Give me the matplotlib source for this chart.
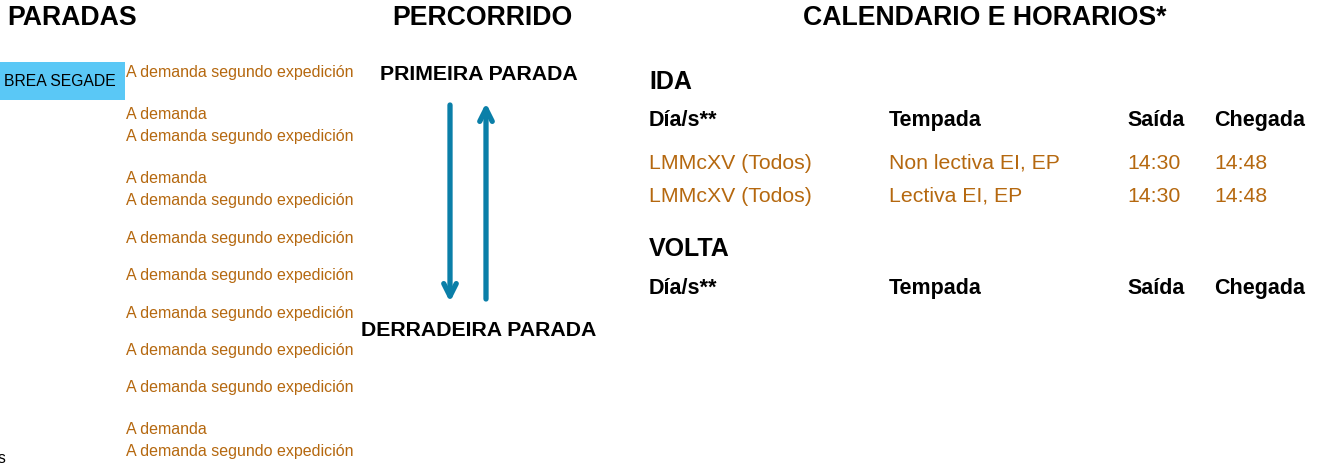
import matplotlib
matplotlib.use("Agg")
import matplotlib.pyplot as plt

plt.rcParams['font.family'] = ['Liberation Sans', 'DejaVu Sans']

# data
headers = ["PARADAS", "PERCORRIDO", "CALENDARIO E HORARIOS*"]
first_stop = "BREA SEGADE"
last_stop_tail = "s"
stop_notes = [
    ["A demanda segundo expedición"],
    ["A demanda", "A demanda segundo expedición"],
    ["A demanda", "A demanda segundo expedición"],
    ["A demanda segundo expedición"],
    ["A demanda segundo expedición"],
    ["A demanda segundo expedición"],
    ["A demanda segundo expedición"],
    ["A demanda segundo expedición"],
    ["A demanda", "A demanda segundo expedición"],
]
route_ends = ["PRIMEIRA PARADA", "DERRADEIRA PARADA"]
table_cols = ["Día/s**", "Tempada", "Saída", "Chegada"]
ida_rows = [
    ["LMMcXV (Todos)", "Non lectiva EI, EP", "14:30", "14:48"],
    ["LMMcXV (Todos)", "Lectiva EI, EP", "14:30", "14:48"],
]
volta_rows = []

ORANGE = "#b5680f"
BLUE = "#5ac8f6"
ARROW = "#0a7fa8"

fig = plt.figure(figsize=(13.22, 4.73), dpi=100)
ax = fig.add_axes([0, 0, 1, 1])
ax.set_xlim(0, 1322)
ax.set_ylim(473, 0)
ax.axis("off")

# column headers
ax.text(72, 18, headers[0], fontsize=19.2, fontweight="bold", ha="center", va="center")
ax.text(482, 18, headers[1], fontsize=19.2, fontweight="bold", ha="center", va="center")
ax.text(985, 18, headers[2], fontsize=19.2, fontweight="bold", ha="center", va="center")

# stops column
ax.add_patch(plt.Rectangle((0, 62), 125, 38, color=BLUE, lw=0))
ax.text(60, 81, first_stop, fontsize=11.3, ha="center", va="center")
ax.text(-2, 458, last_stop_tail, fontsize=11.3, ha="left", va="center")

row_y = [72, 114, 178, 238, 275, 313, 350, 387, 429]
for y0, notes in zip(row_y, stop_notes):
    for k, line in enumerate(notes):
        ax.text(126, y0 + 22 * k, line, fontsize=11.5, color=ORANGE, ha="left", va="center")

# route arrows
ax.text(479, 74, route_ends[0], fontsize=15.3, fontweight="bold", ha="center", va="center")
t = ax.text(479, 330, route_ends[1], fontsize=15.3, fontweight="bold", ha="center", va="center")
t.set_clip_path(plt.Rectangle((361, 300), 300, 60, transform=ax.transData))
arrow_style = dict(arrowstyle="->,head_length=0.9,head_width=0.45", color=ARROW, lw=3.8,
                   shrinkA=0, shrinkB=0)
ax.annotate("", xy=(450, 302), xytext=(450, 105), arrowprops=arrow_style)
ax.annotate("", xy=(486, 103), xytext=(486, 299), arrowprops=arrow_style)

# timetable
col_x = [649, 889, 1127, 1214]


def draw_block(title, y_title, y_head, rows):
    ax.text(col_x[0], y_title, title, fontsize=18, fontweight="bold", ha="left", va="center")
    for x, c in zip(col_x, table_cols):
        ax.text(x, y_head, c, fontsize=15.5, fontweight="bold", ha="left", va="center")
    for i, r in enumerate(rows):
        for x, v in zip(col_x, r):
            ax.text(x, y_head + 43 + 33 * i, v, fontsize=15.3, color=ORANGE, ha="left", va="center")


draw_block("IDA", 82, 120, ida_rows)
draw_block("VOLTA", 249, 288, volta_rows)

fig.savefig("out.png", dpi=100)
